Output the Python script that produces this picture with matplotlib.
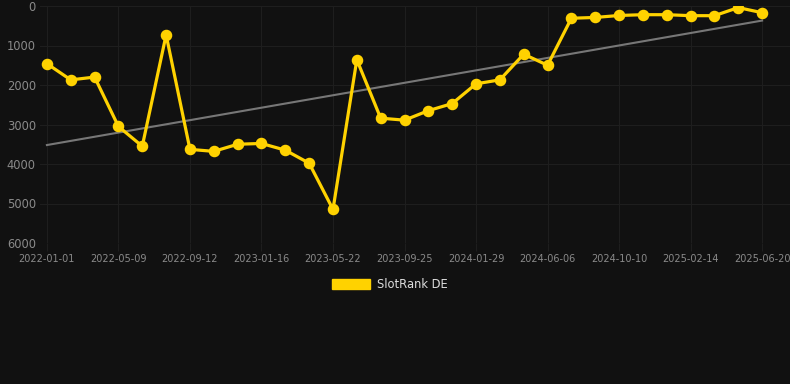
import matplotlib
matplotlib.use("Agg")
import matplotlib.pyplot as plt
from matplotlib.patches import Patch
import numpy as np

# SlotRank DE rank, one value per point (lower is better, axis inverted)
rankValues = [1460, 1870, 1800, 3050, 3550, 730, 3630, 3680, 3500, 3480,
              3650, 3980, 5150, 1360, 2840, 2890, 2650, 2470, 1970, 1870,
              1220, 1500, 310, 290, 240, 220, 220, 245, 245, 40, 170]
# every third point carries a date label
tickLabels = ["2022-01-01", "2022-05-09", "2022-09-12", "2023-01-16", "2023-05-22",
              "2023-09-25", "2024-01-29", "2024-06-06", "2024-10-10", "2025-02-14",
              "2025-06-20"]
yTicks = [0, 1000, 2000, 3000, 4000, 5000, 6000]

bg = "#111111"
gold = "#FFD200"

fig = plt.figure(figsize=(7.9, 3.84), dpi=100, facecolor=bg)
ax = fig.add_axes([40/790, 1-243/384, 750/790, 237/384])
ax.set_facecolor(bg)

x = np.arange(len(rankValues))
y = np.array(rankValues)

# linear trend
k, b = np.polyfit(x, y, 1)
ax.plot([x[0], x[-1]], [k*x[0]+b, k*x[-1]+b], color="#777777", linewidth=1.5, zorder=2)

ax.plot(x, y, color=gold, linewidth=2.3, marker="o", markersize=7.3, zorder=3)

ax.set_ylim(6000, 0)
ax.set_xlim(-0.29, 31.17)
ax.set_yticks(yTicks)
ax.set_yticklabels([str(t) for t in yTicks])
ax.set_xticks(x[::3])
ax.set_xticklabels(tickLabels)

ax.grid(True, color="#1e1e1e", linewidth=0.8)
ax.set_axisbelow(True)
for s in ax.spines.values():
    s.set_visible(False)
ax.tick_params(axis="y", length=0, pad=3, labelsize=8.3, labelcolor="#8a8a8a")
ax.tick_params(axis="x", length=6, color="#1e1e1e", pad=2, labelsize=7, labelcolor="#8a8a8a")

fig.legend(handles=[Patch(facecolor=gold, edgecolor=gold)], labels=["SlotRank DE"],
           loc="center", bbox_to_anchor=(0.494, 1-284/384), frameon=False,
           fontsize=8.3, labelcolor="#dddddd", handlelength=3.3, handleheight=0.95,
           handletextpad=0.6)

fig.savefig("out.png", dpi=100, facecolor=bg)
